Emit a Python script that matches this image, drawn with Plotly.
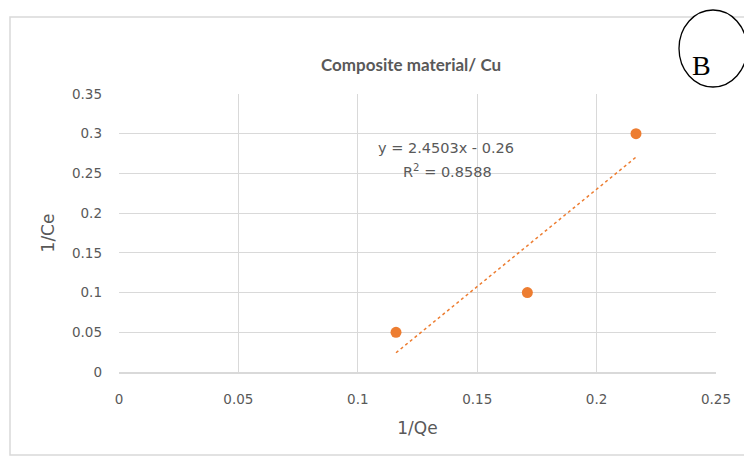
import plotly.graph_objects as go

# Langmuir linearisation for the composite material / Cu
inv_qe = [0.116, 0.171, 0.2165]
inv_ce = [0.05, 0.10, 0.30]
slope = 2.4503
intercept = -0.26
r_squared = 0.8588
x_ticks = [0, 0.05, 0.1, 0.15, 0.2, 0.25]
y_ticks = [0, 0.05, 0.1, 0.15, 0.2, 0.25, 0.3, 0.35]

W, H = 744, 457
ORANGE = "#ED7D31"
GREY = "#595959"
GRID = "#D9D9D9"
FONT = "DejaVu Sans, Verdana, sans-serif"
TITLE_FONT = "Lato, Calibri, sans-serif"


def px(x):
    return x / W


def py(y):
    return 1 - y / H


fit_x = [min(inv_qe), max(inv_qe)]
fit_y = [slope * v + intercept for v in fit_x]

fig = go.Figure()
fig.add_trace(go.Scatter(
    x=fit_x, y=fit_y, mode="lines",
    line=dict(color=ORANGE, width=1.5, dash="dot"),
    hoverinfo="skip", showlegend=False,
))
fig.add_trace(go.Scatter(
    x=inv_qe, y=inv_ce, mode="markers",
    marker=dict(color=ORANGE, size=11),
    showlegend=False,
))

axis_font = dict(family=FONT, size=13.5, color=GREY)
title_font = dict(family=FONT, size=17, color=GREY)

fig.update_layout(
    width=W, height=H,
    margin=dict(l=0, r=0, t=0, b=0, autoexpand=False),
    paper_bgcolor="white", plot_bgcolor="white",
    font=axis_font,
    xaxis=dict(
        domain=[px(119), px(716)], range=[0, 0.25], automargin=False,
        tickvals=x_ticks, ticktext=[f"{v:g}" for v in x_ticks],
        showgrid=True, gridcolor=GRID, gridwidth=1,
        zeroline=False, showline=True, linecolor=GRID, linewidth=1.5,
        ticks="", tickfont=axis_font, ticklabelstandoff=14,
        title=dict(text="1/Qe", font=title_font, standoff=16),
    ),
    yaxis=dict(
        domain=[py(372), py(94)], range=[0, 0.35], automargin=False,
        tickvals=y_ticks, ticktext=[f"{v:g}" for v in y_ticks],
        showgrid=True, gridcolor=GRID, gridwidth=1,
        zeroline=False, showline=False,
        ticks="", tickfont=axis_font, ticklabelstandoff=16,
        title=dict(text="1/Ce", font=title_font, standoff=12),
    ),
    shapes=[
        # chart area border
        dict(type="rect", xref="paper", yref="paper",
             x0=px(10), x1=px(760), y0=py(455), y1=py(17),
             line=dict(color=GRID, width=1.5), fillcolor="rgba(0,0,0,0)", layer="below"),
        # panel label circle
        dict(type="circle", xref="paper", yref="paper",
             x0=px(679), x1=px(747), y0=py(87), y1=py(10),
             line=dict(color="black", width=1.3), fillcolor="white", layer="above"),
    ],
    annotations=[
        dict(text="<b>Composite material/ Cu</b>", xref="paper", yref="paper",
             x=px(411), y=py(52), showarrow=False,
             font=dict(family=TITLE_FONT, size=17, color=GREY)),
        dict(text=f"y = {slope}x - {abs(intercept):g}", xref="x", yref="y",
             x=0.1370, y=0.2815, showarrow=False,
             font=dict(family=FONT, size=14.5, color=GREY)),
        dict(text=f"R<sup>2</sup> = {r_squared}", xref="x", yref="y",
             x=0.1375, y=0.2525, showarrow=False,
             font=dict(family=FONT, size=14.5, color=GREY)),
        dict(text="B", xref="paper", yref="paper",
             x=px(713), y=py(48), showarrow=False,
             font=dict(family="Liberation Serif, Times New Roman, serif", size=28, color="black")),
    ],
)

fig.write_html("out.html")
